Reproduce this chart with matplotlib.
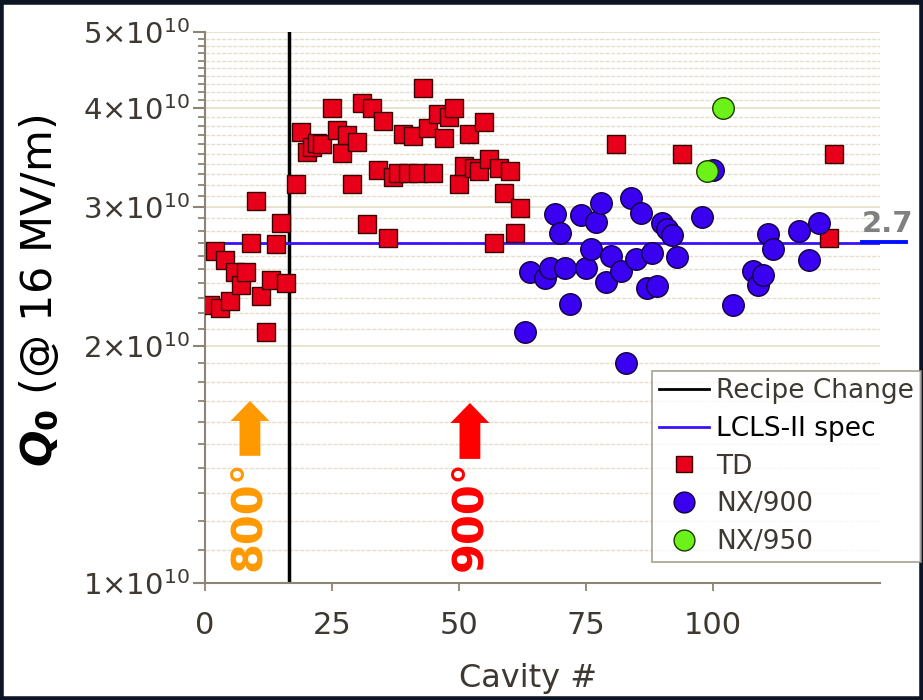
import numpy as np
import matplotlib
matplotlib.use("Agg")
import matplotlib.pyplot as plt
from matplotlib.ticker import FixedLocator, NullFormatter
from matplotlib.patches import Rectangle
from matplotlib.lines import Line2D

plt.rcParams['mathtext.fontset'] = 'custom'
plt.rcParams['mathtext.rm'] = 'DejaVu Sans'
plt.rcParams['mathtext.it'] = 'DejaVu Sans:italic:bold'
plt.rcParams['mathtext.bf'] = 'DejaVu Sans:bold'

# ---------------- data ----------------
td_cavity = [1, 2, 3, 4, 5, 6, 7, 8, 9, 10, 11, 12, 13, 14, 15, 16,
             18, 19, 20, 21, 22, 23, 25, 26, 27, 28, 29, 30, 31, 32, 33, 34,
             35, 36, 37, 38, 39, 40, 41, 42, 43, 44, 45, 46, 47, 48, 49, 50,
             51, 52, 53, 54, 55, 56, 57, 58, 59, 60, 61, 62, 81, 94, 123, 124]
td_q0 = [2.25, 2.64, 2.23, 2.57, 2.28, 2.48, 2.39, 2.48, 2.70, 3.05, 2.31, 2.08, 2.42, 2.69, 2.86, 2.40,
         3.21, 3.73, 3.52, 3.57, 3.62, 3.61, 4.00, 3.75, 3.51, 3.70, 3.21, 3.63, 4.06, 2.85, 4.00, 3.34,
         3.85, 2.74, 3.27, 3.31, 3.71, 3.31, 3.69, 3.31, 4.24, 3.78, 3.31, 3.94, 3.67, 3.90, 4.00, 3.21,
         3.38, 3.71, 3.36, 3.33, 3.84, 3.45, 2.70, 3.36, 3.12, 3.33, 2.78, 2.99, 3.60, 3.50, 2.74, 3.50]

nx900_cavity = [63, 64, 67, 68, 69, 70, 71, 72, 74, 75, 76, 77, 78, 79, 80, 82,
                83, 84, 85, 86, 87, 88, 89, 90, 91, 92, 93, 98, 100, 104,
                108, 109, 110, 111, 112, 117, 119, 121]
nx900_q0 = [2.08, 2.48, 2.44, 2.51, 2.94, 2.78, 2.51, 2.26, 2.93, 2.51, 2.65, 2.87, 3.03, 2.41, 2.60, 2.49,
            1.90, 3.08, 2.58, 2.95, 2.37, 2.62, 2.38, 2.86, 2.81, 2.76, 2.59, 2.91, 3.34, 2.25,
            2.49, 2.39, 2.46, 2.77, 2.65, 2.80, 2.57, 2.86]

nx950_cavity = [99, 102]
nx950_q0 = [3.33, 4.01]

recipe_change = 16.5
spec_q0 = 2.7e10
scale = 1e10

y_major = [1, 2, 3, 4, 5]
x_ticks = [0, 25, 50, 75, 100]

# ---------------- figure ----------------
fig = plt.figure(figsize=(9.23, 7.0), dpi=100)
ax = fig.add_axes([0.2221, 0.1671, 0.9534 - 0.2221, 0.9543 - 0.1671])

txtcol = '#3d3832'
spcol = '#8c8474'

ax.set_yscale('log')
ax.set_ylim(1e10, 5e10)
ax.set_xlim(0, 133)

# grid lines
minor_vals = [v * 1e9 for v in range(11, 50) if v % 10 != 0]
for v in minor_vals:
    ax.axhline(v, color='#e6dfcc', lw=1.0, ls=(0, (3, 1)), zorder=0)
for v in y_major:
    ax.axhline(v * scale, color='#e6dfcc', lw=1.3, zorder=0)

ax.yaxis.set_major_locator(FixedLocator([v * scale for v in y_major]))
ax.yaxis.set_minor_locator(FixedLocator(minor_vals))
ax.yaxis.set_minor_formatter(NullFormatter())
ax.set_yticklabels([r'$%d{\times}10^{10}$' % v for v in y_major])
ax.set_xticks(x_ticks)
ax.set_xticklabels([str(v) for v in x_ticks])

for side in ['top', 'right']:
    ax.spines[side].set_visible(False)
for side in ['left', 'bottom']:
    ax.spines[side].set_color(spcol)
    ax.spines[side].set_linewidth(1.5)

ax.tick_params(axis='y', which='major', length=9, width=1.5, color=spcol,
               labelsize=21, labelcolor=txtcol, pad=2)
ax.tick_params(axis='y', which='minor', length=5, width=1.3, color=spcol)
ax.tick_params(axis='x', which='major', length=6, width=1.3, color=spcol,
               labelsize=22, labelcolor=txtcol, pad=14)

# reference lines
ax.axvline(recipe_change, color='black', lw=2.5, zorder=2)
ax.axhline(spec_q0, color='#3a10ff', lw=2.0, zorder=2)

# data
ax.plot(td_cavity, [v * scale for v in td_q0], ls='none', marker='s', ms=12.5,
        mfc='#e8001a', mec='#3a0000', mew=1.0, zorder=3)
ax.plot(nx900_cavity, [v * scale for v in nx900_q0], ls='none', marker='o', ms=15.5,
        mfc='#3a00f0', mec='#10003a', mew=1.0, zorder=4)
ax.plot(nx950_cavity, [v * scale for v in nx950_q0], ls='none', marker='o', ms=15.5,
        mfc='#6cf218', mec='#1a3a00', mew=1.0, zorder=5)

# legend
handles = [
    Line2D([], [], color='black', lw=2.0),
    Line2D([], [], color='#3a10ff', lw=2.0),
    Line2D([], [], ls='none', marker='s', ms=12, mfc='#e8001a', mec='#3a0000'),
    Line2D([], [], ls='none', marker='o', ms=15, mfc='#3a00f0', mec='#10003a'),
    Line2D([], [], ls='none', marker='o', ms=15, mfc='#6cf218', mec='#1a3a00'),
]
labels = ['Recipe Change', 'LCLS-II spec', 'TD', 'NX/900', 'NX/950']
leg = fig.legend(handles, labels, loc='upper right', bbox_to_anchor=(0.998, 0.47),
                 fontsize=19, frameon=True, fancybox=False, handlelength=1.9,
                 handletextpad=0.25, labelspacing=0.44, borderpad=0.28, borderaxespad=0)
leg.get_frame().set_edgecolor('#9a9382')
leg.get_frame().set_linewidth(1.3)
for t in leg.get_texts():
    t.set_color(txtcol)
leg.get_texts()[1].set_color('black')

# labels
ax.set_xlabel('Cavity #', fontsize=23, color=txtcol)
ax.xaxis.set_label_coords(0.479, -0.145)
fig.text(0.043, 0.584, r'$Q_{\mathbf{0}}$ (@ 16 MV/m)', rotation=90, fontsize=31,
         color='black', ha='center', va='center')

# annotations: arrows and temperatures
arrow_style = 'simple,head_length=0.72,head_width=1.4,tail_width=0.75'
ax.annotate('', xy=(8.86, 1.702e10), xytext=(8.86, 1.45e10),
            arrowprops=dict(arrowstyle=arrow_style, color='#ff9900', lw=0,
                            mutation_scale=20, shrinkA=0, shrinkB=0))
ax.annotate('', xy=(52.2, 1.692e10), xytext=(52.2, 1.437e10),
            arrowprops=dict(arrowstyle=arrow_style, color='#ff0000', lw=0,
                            mutation_scale=20, shrinkA=0, shrinkB=0))
ax.text(8.4, 1.22e10, '800°', rotation=90, fontsize=31, fontweight='bold',
        color='#ff9900', ha='center', va='center', family='Liberation Sans Narrow')
ax.text(52.0, 1.22e10, '900°', rotation=90, fontsize=31, fontweight='bold',
        color='#ff0000', ha='center', va='center', family='Liberation Sans Narrow')

# spec value tag on the right
fig.text(862 / 923, 1 - 232 / 700, '2.7', fontsize=21, fontweight='bold', color='#808080',
         ha='left', va='baseline')
fig.add_artist(Line2D([862 / 923, 906 / 923], [1 - 242 / 700, 1 - 242 / 700],
                      color='#0010ff', lw=2.8))

# dark frame around the slide
fig.add_artist(Rectangle((0.0015, 0.002), 0.997, 0.995, transform=fig.transFigure,
                         fill=False, edgecolor='#0d1525', lw=4))

fig.savefig('out.png', dpi=100)
